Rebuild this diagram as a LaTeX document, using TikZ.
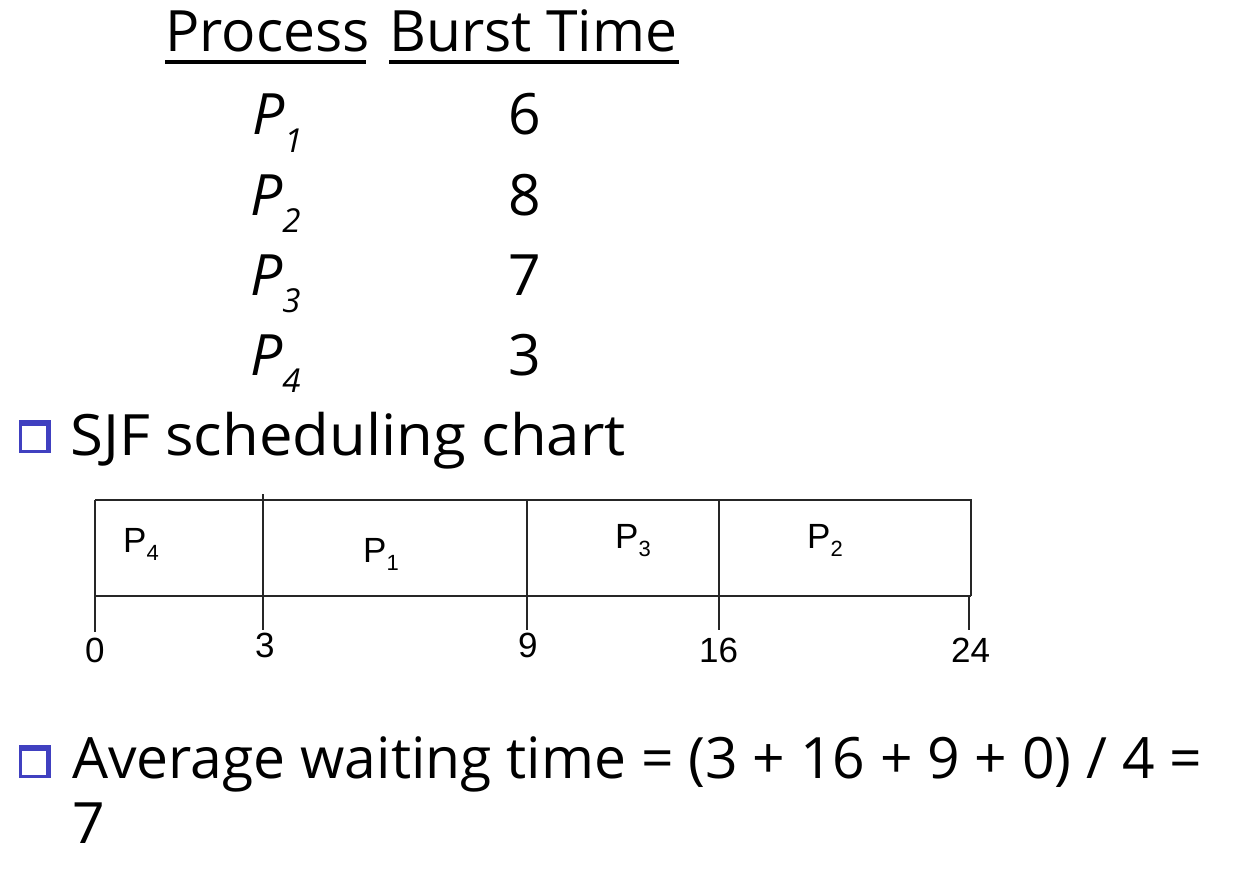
\documentclass[tikz,border=0pt]{standalone}
\usepackage{fontspec}
\setmainfont{Open Sans}
\newfontfamily\arialf{Liberation Sans}
\begin{document}
\begin{tikzpicture}[x=1pt,y=-1pt,
  big/.style={inner sep=0pt, anchor=base west, font=\fontsize{57}{64}\selectfont},
  num/.style={inner sep=0pt, anchor=base, font=\fontsize{57}{64}\selectfont},
  ptxt/.style={inner sep=0pt, anchor=base west, font=\fontsize{57}{64}\selectfont\itshape},
  ctxt/.style={inner sep=0pt, anchor=base west, font=\arialf\fontsize{35}{40}\selectfont},
  tick/.style={inner sep=0pt, anchor=base west, font=\arialf\fontsize{35}{40}\selectfont},
  chartline/.style={line width=1.5pt, draw=black!85},
  uline/.style={line width=4pt},
  bulletblue/.style={fill={rgb,255:red,64;green,64;blue,192}}
]
\useasboundingbox (0,0) rectangle (1258,880);
\newcommand{\Psub}[1]{P\raisebox{-0.3em}{\fontsize{33}{33}\selectfont #1}}
\newcommand{\Csub}[1]{P\raisebox{-0.25em}{\fontsize{22}{22}\selectfont #1}}
% header
\node[big] (hproc) at (165,52) {Process};
\node[big] (hburst) at (389,52) {Burst Time};
\draw[uline] (165,62) -- (366,62);
\draw[uline] (389,62) -- (679,62);
% table rows
\node[ptxt] (p1) at (252,135) {\Psub{1}};
\node[ptxt] (p2) at (250,215) {\Psub{2}};
\node[ptxt] (p3) at (250,295) {\Psub{3}};
\node[ptxt] (p4) at (250,375) {\Psub{4}};
\node[num] (b1) at (525,135) {6};
\node[num] (b2) at (525,215) {8};
\node[num] (b3) at (525,295) {7};
\node[num] (b4) at (525,375) {3};
% bullet 1
\fill[bulletblue] (19,420) rectangle (51,453);
\fill[white] (22,426) rectangle (46,450);
\node[big] (sjf) at (70,455) {\scalebox{1.05}[1]{SJF scheduling chart}};
% chart
\draw[chartline] (95,500) -- (971,500) -- (971,596);
\draw[chartline] (95,596) -- (971,596);
\draw[chartline] (95,500) -- (95,632);
\draw[chartline] (263,494) -- (263,630);
\draw[chartline] (527,500) -- (527,630);
\draw[chartline] (719,500) -- (719,630);
\draw[chartline] (969,596) -- (969,630);
\node[ctxt] (c4) at (123,552) {\Csub{4}};
\node[ctxt] (c1) at (363,562) {\Csub{1}};
\node[ctxt] (c3) at (615,548) {\Csub{3}};
\node[ctxt] (c2) at (807,548) {\Csub{2}};
\node[tick] (t0) at (85,662) {0};
\node[tick] (t3) at (255,657) {3};
\node[tick] (t9) at (518,657) {9};
\node[tick] (t16) at (699,662) {16};
\node[tick] (t24) at (951,662) {24};
% bullet 2
\fill[bulletblue] (19,745) rectangle (51,778);
\fill[white] (22,751) rectangle (46,775);
\node[big] (avg) at (72,778) {Average waiting time = (3 + 16 + 9 + 0) / 4 =};
\node[big] (seven) at (72,843) {7};
\end{tikzpicture}
\end{document}
